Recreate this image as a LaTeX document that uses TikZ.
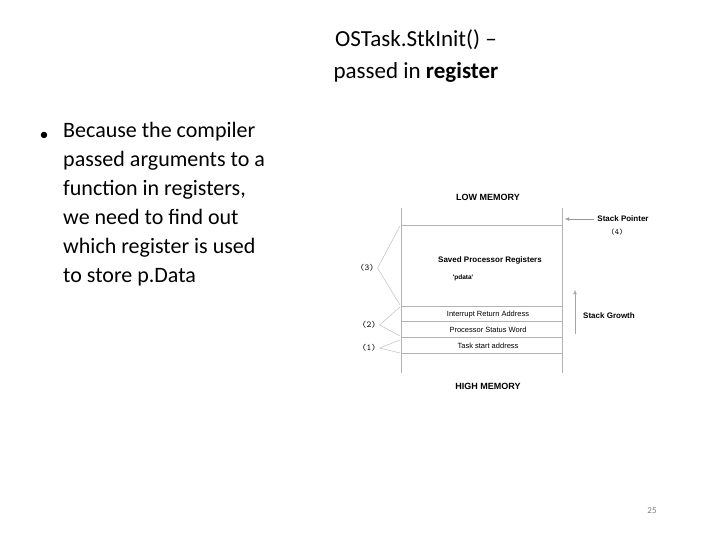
\documentclass[tikz,border=0pt]{standalone}
\usepackage{fontspec}
\setmainfont{Carlito}
\newfontfamily\arialfont{Liberation Sans}
\usetikzlibrary{arrows.meta}
\tikzset{
  memtext/.style={font=\arialfont\fontsize{7.5}{9}\selectfont},
  memhead/.style={font=\arialfont\bfseries\fontsize{9}{10}\selectfont},
  numtext/.style={font=\ttfamily\fontsize{9}{10}\selectfont},
  braceline/.style={gray!50, line width=0.5pt},
  cellline/.style={gray!60, line width=0.7pt},
  bodytext/.style={font=\fontsize{22}{29}\selectfont, align=left, anchor=north west, inner sep=0pt}
}
\begin{document}
\begin{tikzpicture}[x=1pt,y=-1pt]
  \useasboundingbox[fill=white] (0,0) rectangle (720,540);

  % title
  \node[font=\fontsize{23}{32}\selectfont, align=center] (title) at (416,56)
    {OSTask.StkInit() --\\passed in \textbf{register}};

  % bullet text
  \node[font=\fontsize{18}{29}\selectfont] (dot) at (44,136) {\textbullet};
  \node[bodytext] (body) at (63,122)
    {Because the compiler\\passed arguments to a\\function in registers,\\we need to find out\\which register is used\\to store p.Data};

  % memory frame
  \coordinate (tl) at (401,208);
  \coordinate (tr) at (562,208);
  \coordinate (bl) at (401,373);
  \coordinate (br) at (562,373);
  \draw[cellline] (tl) -- (bl);
  \draw[cellline] (tr) -- (br);
  \foreach \y in {225,306,321,337,353}
    \draw[cellline] (401,\y) -- (562,\y);

  \node[memhead] (low) at (488,197) {LOW MEMORY};
  \node[memhead] (high) at (488,386) {HIGH MEMORY};
  \node[memtext, font=\arialfont\bfseries\fontsize{8}{9}\selectfont] (saved) at (490,260) {Saved Processor Registers};
  \node[memtext, font=\arialfont\bfseries\fontsize{6.5}{8}\selectfont] (pdata) at (463,278) {'pdata'};
  \node[memtext] (ira) at (488,315) {Interrupt Return Address};
  \node[memtext] (psw) at (488,330) {Processor Status Word};
  \node[memtext] (tsa) at (488,346) {Task start address};

  % braces
  \node[numtext] (n3) at (367,268) {(3)};
  \node[numtext] (n2) at (369,325) {(2)};
  \node[numtext] (n1) at (369,348) {(1)};
  \draw[braceline] (400,226) -- (n3.east) -- (400,305);
  \draw[braceline] (400,307) -- (n2.east) -- (400,336);
  \draw[braceline] (400,340) -- (n1.east) -- (400,353);

  % stack pointer and growth
  \node[memtext, font=\arialfont\bfseries\fontsize{8}{9}\selectfont] (sp) at (623,219) {Stack Pointer};
  \node[numtext, font=\ttfamily\fontsize{8}{9}\selectfont] (n4) at (617,232) {(4)};
  \draw[-{Latex[length=4pt,width=3.5pt]}, gray!80] (sp.west) -- (565,219);
  \node[memtext, font=\arialfont\bfseries\fontsize{8}{9}\selectfont] (sg) at (609,316) {Stack Growth};
  \coordinate (sgb) at (575,334);
  \coordinate (sgt) at (575,290);
  \draw[-{Latex[length=4pt,width=3.5pt]}, gray!70] (sgb) -- (sgt);

  % page number
  \node[font=\fontsize{9}{10}\selectfont, text=gray] (page) at (652,511) {25};
\end{tikzpicture}
\end{document}
